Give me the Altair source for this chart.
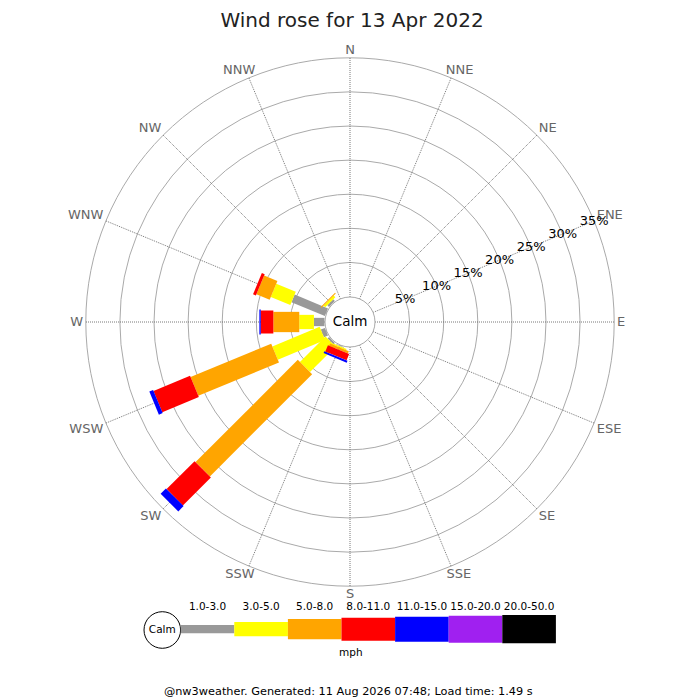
import altair as alt
import pandas as pd

# ---------------- data ----------------
TITLE = "Wind rose for 13 Apr 2022"
FOOTER = "@nw3weather. Generated: 11 Aug 2026 07:48; Load time: 1.49 s"
CALM_LABEL = "Calm"
UNIT_LABEL = "mph"

DIRECTIONS = ["N", "NNE", "NE", "ENE", "E", "ESE", "SE", "SSE",
              "S", "SSW", "SW", "WSW", "W", "WNW", "NW", "NNW"]
SPEED_BINS = ["1.0-3.0", "3.0-5.0", "5.0-8.0", "8.0-11.0",
              "11.0-15.0", "15.0-20.0", "20.0-50.0"]

# % of time per direction (N ... NNW) for each speed bin
#             N  NNE NE ENE E ESE SE SSE S  SSW   SW     WSW    W     WNW   NW    NNW
FREQ_1_3   = [0, 0, 0, 0, 0, 0, 0, 0, 0, 0.10, 0.30, 0.65, 1.55, 5.30, 0.35, 0]
FREQ_3_5   = [0, 0, 0, 0, 0, 0, 0, 0, 0, 0.20, 5.30, 7.50, 2.15, 3.10, 0.35, 0]
FREQ_5_8   = [0, 0, 0, 0, 0, 0, 0, 0, 0, 0.35, 21.20, 12.80, 3.80, 2.10, 0.15, 0]
FREQ_8_11  = [0, 0, 0, 0, 0, 0, 0, 0, 0, 1.00, 5.80, 5.80, 1.85, 0.45, 0, 0]
FREQ_11_15 = [0, 0, 0, 0, 0, 0, 0, 0, 0, 0.30, 1.10, 0.60, 0.20, 0, 0, 0]
FREQ_15_20 = [0, 0, 0, 0, 0, 0, 0, 0, 0, 0, 0, 0, 0, 0, 0, 0]
FREQ_20_50 = [0, 0, 0, 0, 0, 0, 0, 0, 0, 0, 0, 0, 0, 0, 0, 0]
FREQS = [FREQ_1_3, FREQ_3_5, FREQ_5_8, FREQ_8_11, FREQ_11_15, FREQ_15_20, FREQ_20_50]

RING_PCTS = [5, 10, 15, 20, 25, 30, 35]
RING_LABELS = ["5%", "10%", "15%", "20%", "25%", "30%", "35%"]

# ---------------- style / layout ----------------
BIN_COLORS = ["#999999", "#ffff00", "#ffa500", "#ff0000", "#0000ff", "#a020f0", "#000000"]
BIN_WIDTHS = [8.3, 14.3, 20.3, 23, 25, 27, 28.3]
FONT = "DejaVu Sans"

W_PX, H_PX, PAD_TOP = 684, 662, 30
X_DOM = [8, 692]
Y_DOM = [38, 700]
CX, CY = 350, 322
R_ZERO = 25.5
PX_PER_PCT = 6.82
CALM_R = 25
OUTER_R = R_ZERO + PX_PER_PCT * 35
LABEL_R = 267
PCT_BEARING_DEG = 67.5
LEG_X0, LEG_STEP, LEG_Y, LEG_LABEL_Y = 180.7, 53.6, 629.2, 610
LEG_CALM_X, LEG_CALM_Y, LEG_CALM_R = 162.3, 630, 18.3
UNIT_X, UNIT_Y = 350.8, 656
FOOTER_X, FOOTER_Y = 348.3, 695
TITLE_X, TITLE_Y = 352, 27

CHAR_EM = {"N": 0.748, "E": 0.632, "S": 0.635, "W": 0.989}

XS = alt.Scale(domain=X_DOM, nice=False, zero=False)
YS = alt.Scale(domain=Y_DOM, reverse=True, nice=False, zero=False)


def ex(f):
    return alt.X(f"{f}:Q", scale=XS, axis=None)


def ey(f):
    return alt.Y(f"{f}:Q", scale=YS, axis=None)


# ---------------- tables ----------------
rows = []
for b, (name, freqs) in enumerate(zip(SPEED_BINS, FREQS)):
    for d, dname in enumerate(DIRECTIONS):
        rows.append(dict(dir=dname, dir_idx=d, bin=name, bin_idx=b, pct=freqs[d],
                         color=BIN_COLORS[b], width=BIN_WIDTHS[b]))
bars_df = pd.DataFrame(rows)

dirs_df = pd.DataFrame({
    "dir": DIRECTIONS,
    "dir_idx": list(range(len(DIRECTIONS))),
    "w": [13 * sum(CHAR_EM[c] for c in d) for d in DIRECTIONS],
})
rings_df = pd.DataFrame({"pct": RING_PCTS, "label": RING_LABELS})
leg_df = pd.DataFrame({"bin": SPEED_BINS, "bin_idx": list(range(len(SPEED_BINS))),
                       "color": BIN_COLORS, "width": BIN_WIDTHS})
calm_df = pd.DataFrame({"x": [CX], "y": [CY], "t": [CALM_LABEL]})
leg_calm_df = pd.DataFrame({"x": [LEG_CALM_X], "y": [LEG_CALM_Y], "t": [CALM_LABEL]})
unit_df = pd.DataFrame({"x": [UNIT_X], "y": [UNIT_Y], "t": [UNIT_LABEL]})
footer_df = pd.DataFrame({"x": [FOOTER_X], "y": [FOOTER_Y], "t": [FOOTER]})
title_df = pd.DataFrame({"x": [TITLE_X], "y": [TITLE_Y], "t": [TITLE]})

# ---------------- layers ----------------
rings = alt.Chart(rings_df).transform_calculate(
    r=f"{R_ZERO}+{PX_PER_PCT}*datum.pct"
).transform_calculate(
    sz="pow(2*datum.r, 2)", cx=f"{CX}", cy=f"{CY}"
).mark_point(shape="circle", filled=False, color="#aaaaaa", strokeWidth=1, opacity=1).encode(
    x=ex("cx"), y=ey("cy"), size=alt.Size("sz:Q", scale=None)
)

spokes = alt.Chart(dirs_df).transform_calculate(
    a="datum.dir_idx*PI/8"
).transform_calculate(
    x1=f"{CX}+{CALM_R}*sin(datum.a)", y1=f"{CY}-{CALM_R}*cos(datum.a)",
    x2=f"{CX}+{OUTER_R}*sin(datum.a)", y2=f"{CY}-{OUTER_R}*cos(datum.a)",
).mark_rule(color="#555555", strokeWidth=0.8, strokeDash=[1, 1]).encode(
    x=ex("x1"), y=ey("y1"), x2="x2:Q", y2="y2:Q"
)

bars = alt.Chart(bars_df).transform_window(
    cum="sum(pct)", groupby=["dir"], sort=[alt.SortField("bin_idx")], frame=[None, 0]
).transform_filter("datum.pct > 0").transform_calculate(
    a="datum.dir_idx*PI/8"
).transform_calculate(
    r1=f"{R_ZERO}+{PX_PER_PCT}*(datum.cum-datum.pct)",
    r2=f"{R_ZERO}+{PX_PER_PCT}*datum.cum",
).transform_calculate(
    x1=f"{CX}+datum.r1*sin(datum.a)", y1=f"{CY}-datum.r1*cos(datum.a)",
    x2=f"{CX}+datum.r2*sin(datum.a)", y2=f"{CY}-datum.r2*cos(datum.a)",
).mark_rule(strokeCap="butt", opacity=1).encode(
    x=ex("x1"), y=ey("y1"), x2="x2:Q", y2="y2:Q",
    color=alt.Color("color:N", scale=None),
    strokeWidth=alt.StrokeWidth("width:Q", scale=None),
    order=alt.Order("bin_idx:Q"),
)

calm_circle = alt.Chart(calm_df).mark_point(
    shape="circle", filled=True, fill="white", stroke="#aaaaaa", strokeWidth=1,
    opacity=1, size=(2 * CALM_R) ** 2
).encode(x=ex("x"), y=ey("y"))

calm_text = alt.Chart(calm_df).mark_text(fontSize=13.5, color="black", font=FONT).encode(
    x=ex("x"), y=ey("y"), text="t:N"
)

dir_labels = alt.Chart(dirs_df).transform_calculate(
    a="datum.dir_idx*PI/8"
).transform_calculate(
    lx=f"{CX}+{LABEL_R}*sin(datum.a)+datum.w/2*clamp(1.4*sin(datum.a),-1,1)",
    ly=f"{CY}-{LABEL_R}*cos(datum.a)-5*clamp(2.6*cos(datum.a),-1,1)",
).mark_text(fontSize=13, color="#666666", font=FONT, align="center", baseline="middle").encode(
    x=ex("lx"), y=ey("ly"), text="dir:N"
)

pct_labels = alt.Chart(rings_df).transform_calculate(
    r=f"{R_ZERO}+{PX_PER_PCT}*datum.pct"
).transform_calculate(
    lx=f"{CX}+datum.r*sin({PCT_BEARING_DEG}*PI/180)",
    ly=f"{CY}-datum.r*cos({PCT_BEARING_DEG}*PI/180)",
).mark_text(fontSize=13, color="black", font=FONT, align="center", baseline="middle").encode(
    x=ex("lx"), y=ey("ly"), text="label:N"
)

legend_bars = alt.Chart(leg_df).transform_calculate(
    x1=f"{LEG_X0}+{LEG_STEP}*datum.bin_idx"
).transform_calculate(
    x2=f"datum.x1+{LEG_STEP}", y=f"{LEG_Y}"
).mark_rule(strokeCap="butt", opacity=1).encode(
    x=ex("x1"), x2="x2:Q", y=ey("y"),
    color=alt.Color("color:N", scale=None),
    strokeWidth=alt.StrokeWidth("width:Q", scale=None),
)

legend_labels = alt.Chart(leg_df).transform_calculate(
    xm=f"{LEG_X0}+{LEG_STEP}*(datum.bin_idx+0.5)", ly=f"{LEG_LABEL_Y}"
).mark_text(fontSize=10.5, color="black", font=FONT, baseline="alphabetic").encode(
    x=ex("xm"), y=ey("ly"), text="bin:N"
)

leg_calm_circle = alt.Chart(leg_calm_df).mark_point(
    shape="circle", filled=True, fill="white", stroke="black", strokeWidth=1,
    opacity=1, size=(2 * LEG_CALM_R) ** 2
).encode(x=ex("x"), y=ey("y"))

leg_calm_text = alt.Chart(leg_calm_df).mark_text(fontSize=10.5, color="black", font=FONT).encode(
    x=ex("x"), y=ey("y"), text="t:N"
)

unit_text = alt.Chart(unit_df).mark_text(fontSize=10.5, color="black", font=FONT,
                                         baseline="alphabetic").encode(
    x=ex("x"), y=ey("y"), text="t:N"
)

footer_text = alt.Chart(footer_df).mark_text(fontSize=11.3, color="black", font=FONT,
                                             baseline="alphabetic").encode(
    x=ex("x"), y=ey("y"), text="t:N"
)

title_text = alt.Chart(title_df).mark_text(fontSize=20, color="#222222", font=FONT,
                                           baseline="alphabetic").encode(
    x=ex("x"), y=ey("y"), text="t:N"
)

chart = alt.layer(
    rings, spokes, bars, calm_circle, calm_text, dir_labels, pct_labels,
    leg_calm_circle, legend_bars, leg_calm_text, legend_labels, unit_text, footer_text,
    title_text,
).properties(
    width=W_PX,
    height=H_PX,
    padding={"left": 0, "top": PAD_TOP, "right": 0, "bottom": 0},
    autosize=alt.AutoSizeParams(type="none"),
).configure(
    font=FONT, background="white"
).configure_view(stroke=None)

chart.save("out.html", embed_options={"renderer": "svg", "actions": False})
